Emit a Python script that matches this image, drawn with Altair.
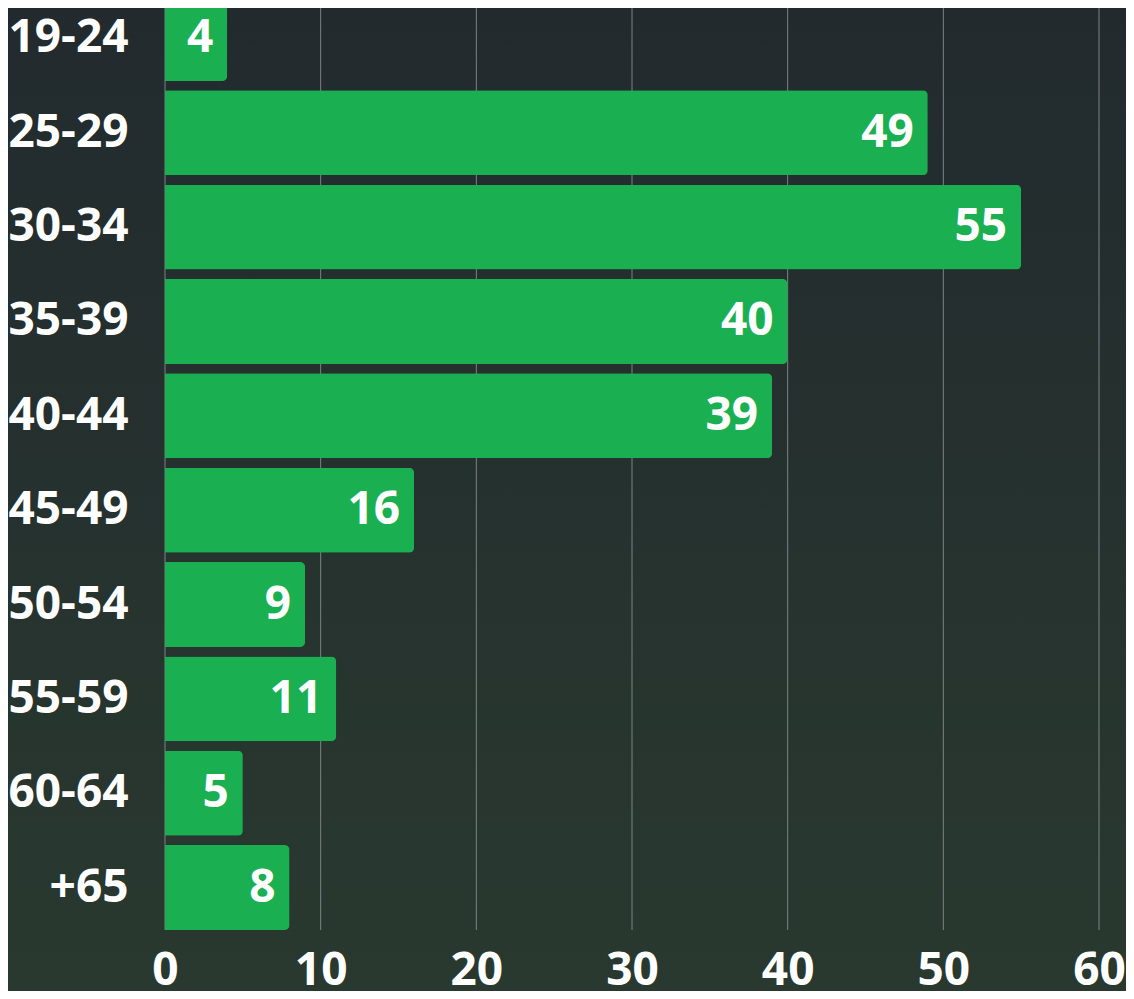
import altair as alt
import pandas as pd

# Data
categories = ["19-24", "25-29", "30-34", "35-39", "40-44", "45-49", "50-54", "55-59", "60-64", "+65"]
values = [4, 49, 55, 40, 39, 16, 9, 11, 5, 8]
x_ticks = [0, 10, 20, 30, 40, 50, 60]

df = pd.DataFrame({"age": categories, "count": values})
ticks_df = pd.DataFrame({"count": x_ticks})

W, H = 934, 934
PAD = {"left": 157, "top": -12, "right": 27, "bottom": 61}
FONT = "Open Sans"

x_scale = alt.Scale(domain=[0, 60], nice=False)

# decorative dark gradient backdrop
bg = alt.Chart(pd.DataFrame({"bg": [0]})).mark_rect(
    fill=alt.Gradient(
        gradient="linear",
        stops=[alt.GradientStop(color="#222a2e", offset=0),
               alt.GradientStop(color="#29392f", offset=1)],
        x1=0, x2=0, y1=0, y2=1,
    )
).encode(
    x=alt.value(-PAD["left"]), x2=alt.value(W + PAD["right"]),
    y=alt.value(-PAD["top"]), y2=alt.value(H + PAD["bottom"]),
)

# vertical gridlines at the tick values (behind the bars)
grid = alt.Chart(ticks_df).mark_rule(color="#7d8384", strokeWidth=1).encode(
    x=alt.X("count:Q", scale=x_scale)
)

base = alt.Chart(df).encode(
    y=alt.Y(
        "age:N", sort=categories,
        scale=alt.Scale(paddingInner=0.1, paddingOuter=0),
        axis=alt.Axis(title=None, domain=False, ticks=False, grid=False,
                      labelPadding=37, labelFont=FONT, labelFontSize=46,
                      labelFontWeight="bold", labelColor="white", zindex=1),
    ),
    x=alt.X(
        "count:Q",
        scale=x_scale,
        axis=alt.Axis(values=x_ticks, title=None, domain=False, ticks=False,
                      grid=False, labelPadding=18, labelFlush=False,
                      labelFont=FONT, labelFontSize=46, labelFontWeight="bold",
                      labelColor="white", zindex=1),
    ),
)

bars = base.mark_bar(color="#1aaf51", cornerRadiusEnd=5)
labels = base.mark_text(
    align="right", baseline="middle", dx=-14, font=FONT, fontSize=46,
    fontWeight="bold", color="white",
).encode(text="count:Q")

chart = alt.layer(bg, grid, bars, labels).properties(
    width=W, height=H, padding=PAD,
    autosize=alt.AutoSizeParams(type="none"),
    background="#252f2f",
).configure_view(stroke=None)

chart.save("out.html", embed_options={"renderer": "svg", "actions": False})
